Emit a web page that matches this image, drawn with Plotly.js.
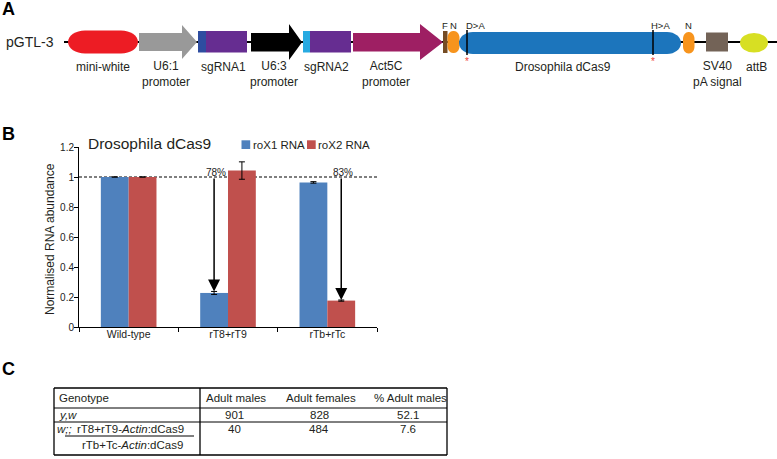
<!DOCTYPE html>
<html><head><meta charset="utf-8">
<script src="https://cdn.plot.ly/plotly-3.0.1.min.js"></script>
<style>html,body{margin:0;padding:0;background:#fff}</style>
</head><body><div id="chart" style="width:777px;height:459px"></div>
<script>
// ---------- data ----------
const categories = ['Wild-type', 'rT8+rT9', 'rTb+rTc'];
const seriesNames = ['roX1 RNA', 'roX2 RNA'];
const rox1 = [1.0, 0.227, 0.964];
const rox1Err = [0.0, 0.010, 0.005];
const rox2 = [1.0, 1.043, 0.176];
const rox2Err = [0.0, 0.058, 0.004];
const knockCat = [1, 2];
const knockSeries = [0, 1];
const knockLabel = ['78%', '83%'];
const chartTitle = 'Drosophila dCas9';
const yTitle = 'Normalised RNA abundance';

const constructName = 'pGTL-3';
const partLabels = ['mini-white', 'U6:1<br>promoter', 'sgRNA1', 'U6:3<br>promoter', 'sgRNA2',
  'Act5C<br>promoter', 'Drosophila dCas9', 'SV40<br>pA signal', 'attB'];
const tagLabels = ['F', 'N', 'D>A', 'H>A', 'N'];

const tableHeader = ['Genotype', 'Adult males', 'Adult females', '% Adult males'];
const genotypeRow1 = '<i>y,w</i>';
const genotypePrefix = '<i>w;;</i>';
const genotypeNum = 'rT8+rT9-<i>Actin</i>:dCas9';
const genotypeDen = 'rTb+Tc-<i>Actin</i>:dCas9';
const adultMales = ['901', '40'];
const adultFemales = ['828', '484'];
const pctMales = ['52.1', '7.6'];

// ---------- helpers ----------
const W = 777, H = 459;
const FONT = 'Liberation Sans, Arial, Helvetica, sans-serif';
const TXT = '#231f20';
const X = x => x / W, Y = y => 1 - y / H;
const P = (x, y) => X(x).toFixed(5) + ',' + Y(y).toFixed(5);
const shapes = [], annotations = [];
function rect(x0, y0, x1, y1, fill) {
  shapes.push({type: 'rect', xref: 'paper', yref: 'paper', x0: X(x0), x1: X(x1), y0: Y(y1), y1: Y(y0),
    fillcolor: fill, line: {width: 0}});
}
function oval(x0, y0, x1, y1, fill) {
  shapes.push({type: 'circle', xref: 'paper', yref: 'paper', x0: X(x0), x1: X(x1), y0: Y(y1), y1: Y(y0),
    fillcolor: fill, line: {width: 0}});
}
function poly(pts, fill) {
  shapes.push({type: 'path', xref: 'paper', yref: 'paper',
    path: 'M' + pts.map(p => P(p[0], p[1])).join('L') + 'Z', fillcolor: fill, line: {width: 0}});
}
function seg(x0, y0, x1, y1, color, width) {
  shapes.push({type: 'line', xref: 'paper', yref: 'paper', x0: X(x0), x1: X(x1), y0: Y(y0), y1: Y(y1),
    line: {color: color, width: width}});
}
function rrect(x0, y0, x1, y1, rx, ry, fill) {
  const k = 0.5523;
  const d = 'M' + P(x0 + rx, y0) + 'L' + P(x1 - rx, y0) +
    'C' + P(x1 - rx + k * rx, y0) + ' ' + P(x1, y0 + ry - k * ry) + ' ' + P(x1, y0 + ry) +
    'L' + P(x1, y1 - ry) +
    'C' + P(x1, y1 - ry + k * ry) + ' ' + P(x1 - rx + k * rx, y1) + ' ' + P(x1 - rx, y1) +
    'L' + P(x0 + rx, y1) +
    'C' + P(x0 + rx - k * rx, y1) + ' ' + P(x0, y1 - ry + k * ry) + ' ' + P(x0, y1 - ry) +
    'L' + P(x0, y0 + ry) +
    'C' + P(x0, y0 + ry - k * ry) + ' ' + P(x0 + rx - k * rx, y0) + ' ' + P(x0 + rx, y0) + 'Z';
  shapes.push({type: 'path', xref: 'paper', yref: 'paper', path: d, fillcolor: fill, line: {width: 0}});
}
function arrowShape(x0, x1, xh, yb0, yb1, yh0, yh1, fill) {
  const ym = (yb0 + yb1) / 2;
  poly([[x0, yb0], [xh, yb0], [xh, yh0], [x1, ym], [xh, yh1], [xh, yb1], [x0, yb1]], fill);
}
function text(str, x, y, size, opts) {
  annotations.push(Object.assign({text: str, xref: 'paper', yref: 'paper', x: X(x), y: Y(y),
    showarrow: false, xanchor: 'center', yanchor: 'middle', borderpad: 0,
    font: {family: FONT, size: size, color: TXT}}, opts || {}));
}

// ---------- panel letters ----------
text('A', 1, 9, 18, {xanchor: 'left', font: {family: FONT, size: 18, color: '#000', weight: 'bold'}});
text('B', 1, 134, 18, {xanchor: 'left', font: {family: FONT, size: 18, color: '#000', weight: 'bold'}});
text('C', 1, 369, 18, {xanchor: 'left', font: {family: FONT, size: 18, color: '#000', weight: 'bold'}});

// ---------- panel A: construct ----------
seg(64, 42, 777, 42, '#000', 2);
text(constructName, 5, 42, 14, {xanchor: 'left'});
rrect(68, 30.5, 138, 53.5, 17, 11.5, '#ed1c24');
arrowShape(139, 197, 182, 33, 51, 25, 59, '#999999');
rect(198, 31, 206, 52.5, '#2e4da0');
rect(206, 31, 247, 52.5, '#662d91');
arrowShape(251, 302, 289, 33, 51.5, 24, 60, '#000000');
rect(303, 31, 310, 52.5, '#27aae1');
rect(310, 31, 351, 52.5, '#662d91');
arrowShape(353, 443, 420, 33, 51.5, 24, 60, '#9e1f63');
rect(443, 31, 447.5, 53, '#754c24');
rrect(447.5, 31, 459.5, 53, 5.5, 7, '#f7941d');
rrect(459, 32, 681, 54, 14, 11, '#1c75bc');
seg(467, 30, 467, 55, '#000', 1.5);
seg(653, 30, 653, 55, '#000', 1.5);
rrect(683, 32, 694.5, 53.5, 5.5, 7, '#f7941d');
rect(706, 32.5, 728, 51.5, '#736357');
oval(740, 33, 768, 52.5, '#d7df23');
text('*', 467, 61, 10, {font: {family: FONT, size: 10, color: '#ef4136'}});
text('*', 653, 61, 10, {font: {family: FONT, size: 10, color: '#ef4136'}});

const partX = [103, 166, 223, 274, 326, 386, 563, 717, 756];
partLabels.forEach((t, i) => {
  const two = t.indexOf('<br>') >= 0;
  text(t, partX[i], two ? 73.5 : 67, 12);
});
const tagX = [445, 453.5, 475, 660, 688.5];
tagLabels.forEach((t, i) => text(t, tagX[i], 25.5, 9.5));

// ---------- panel B: bar chart ----------
const bargap = 0.44;
const half = (1 - bargap) / 4;
const traces = [
  {type: 'bar', x: categories, y: rox1, name: seriesNames[0], marker: {color: '#4f81bd'},
   error_y: {type: 'data', array: rox1Err, visible: true, color: '#000', thickness: 1, width: 3},
   hoverinfo: 'skip'},
  {type: 'bar', x: categories, y: rox2, name: seriesNames[1], marker: {color: '#c0504d'},
   error_y: {type: 'data', array: rox2Err, visible: true, color: '#000', thickness: 1, width: 3},
   hoverinfo: 'skip'}
];
const series = [rox1, rox2], seriesErr = [rox1Err, rox2Err], seriesCol = ['#4f81bd', '#c0504d'];

shapes.push({type: 'line', xref: 'x domain', yref: 'y', x0: 0, x1: 1, y0: 1, y1: 1, layer: 'below',
  line: {color: '#000', width: 1.2, dash: '3px,2px'}});

knockCat.forEach((c, i) => {
  const s = knockSeries[i];
  const xp = c + (s === 0 ? -half : half);
  annotations.push({xref: 'x', yref: 'y', axref: 'x', ayref: 'y', x: xp, y: series[s][c] + seriesErr[s][c],
    ax: xp, ay: 1, text: '', showarrow: true, arrowhead: 2, arrowsize: 1.6, arrowwidth: 1.5,
    arrowcolor: '#000', standoff: 0});
  annotations.push({xref: 'x', yref: 'y', x: xp, y: 1, text: knockLabel[i], showarrow: false,
    yanchor: 'bottom', xanchor: 'center', xshift: 2, yshift: -2, borderpad: 0,
    font: {family: FONT, size: 10, color: '#222'}});
});

text(chartTitle, 87, 143, 15.5, {xanchor: 'left'});
text(yTitle, 50, 239, 12, {textangle: -90});
// legend
const legX = [241.5, 307];
seriesNames.forEach((n, i) => {
  rect(legX[i], 140.3, legX[i] + 8.7, 149, seriesCol[i]);
  text(n, legX[i] + 10, 144.5, 11.5, {xanchor: 'left'});
});

// ---------- panel C: table ----------
const tL = 54, tR = 447, tT = 388, tR1 = 408, tR2 = 422, tB = 455, tC = 200;
seg(tL, tT, tR, tT, '#000', 1.3);
seg(tL, tB, tR, tB, '#000', 1.3);
seg(tL, tT, tL, tB, '#000', 1.3);
seg(tR, tT, tR, tB, '#000', 1.3);
seg(tC, tT, tC, tB, '#000', 1.3);
seg(tL, tR1, tR, tR1, '#000', 1);
seg(tL, tR2, tR, tR2, '#000', 1);
const colX = [58, 236, 321, 410];
text(tableHeader[0], colX[0], 398, 11.5, {xanchor: 'left'});
for (let j = 1; j < 4; j++) text(tableHeader[j], colX[j], 398, 11.5);
text(genotypeRow1, colX[0], 415, 11.5, {xanchor: 'left'});
text(genotypePrefix, 56, 429, 11.5, {xanchor: 'left'});
text(genotypeNum, 130, 429, 11.5);
seg(65, 436, 194, 436, '#000', 1);
text(genotypeDen, 132, 445, 11.5);
const rowY = [415, 429];
[adultMales, adultFemales, pctMales].forEach((col, j) => {
  col.forEach((v, r) => text(v, colX[j + 1] - 2, rowY[r], 11.5));
});

const layout = {
  width: W, height: H, margin: {l: 0, r: 0, t: 0, b: 0},
  paper_bgcolor: '#ffffff', plot_bgcolor: 'rgba(0,0,0,0)',
  showlegend: false, barmode: 'group', bargap: bargap, bargroupgap: 0,
  font: {family: FONT, color: TXT},
  xaxis: {domain: [79 / W, 377 / W], range: [-0.5, 2.5], type: 'category', showline: true,
    linecolor: '#000', linewidth: 1, ticks: 'outside', tickson: 'boundaries', ticklen: 4,
    tickcolor: '#000', tickfont: {size: 10.5, color: '#222'}, showgrid: false, zeroline: false,
    ticklabelstandoff: -3, fixedrange: true},
  yaxis: {domain: [Y(327), Y(147)], range: [0, 1.2], dtick: 0.2, tick0: 0, showline: true,
    linecolor: '#000', linewidth: 1, ticks: 'outside', ticklen: 4, tickcolor: '#000',
    tickfont: {size: 10, color: '#222'}, showgrid: false, zeroline: false,
    ticklabelstandoff: -2, fixedrange: true},
  shapes: shapes, annotations: annotations
};
Plotly.newPlot('chart', traces, layout, {staticPlot: true, displayModeBar: false});
</script></body></html>
